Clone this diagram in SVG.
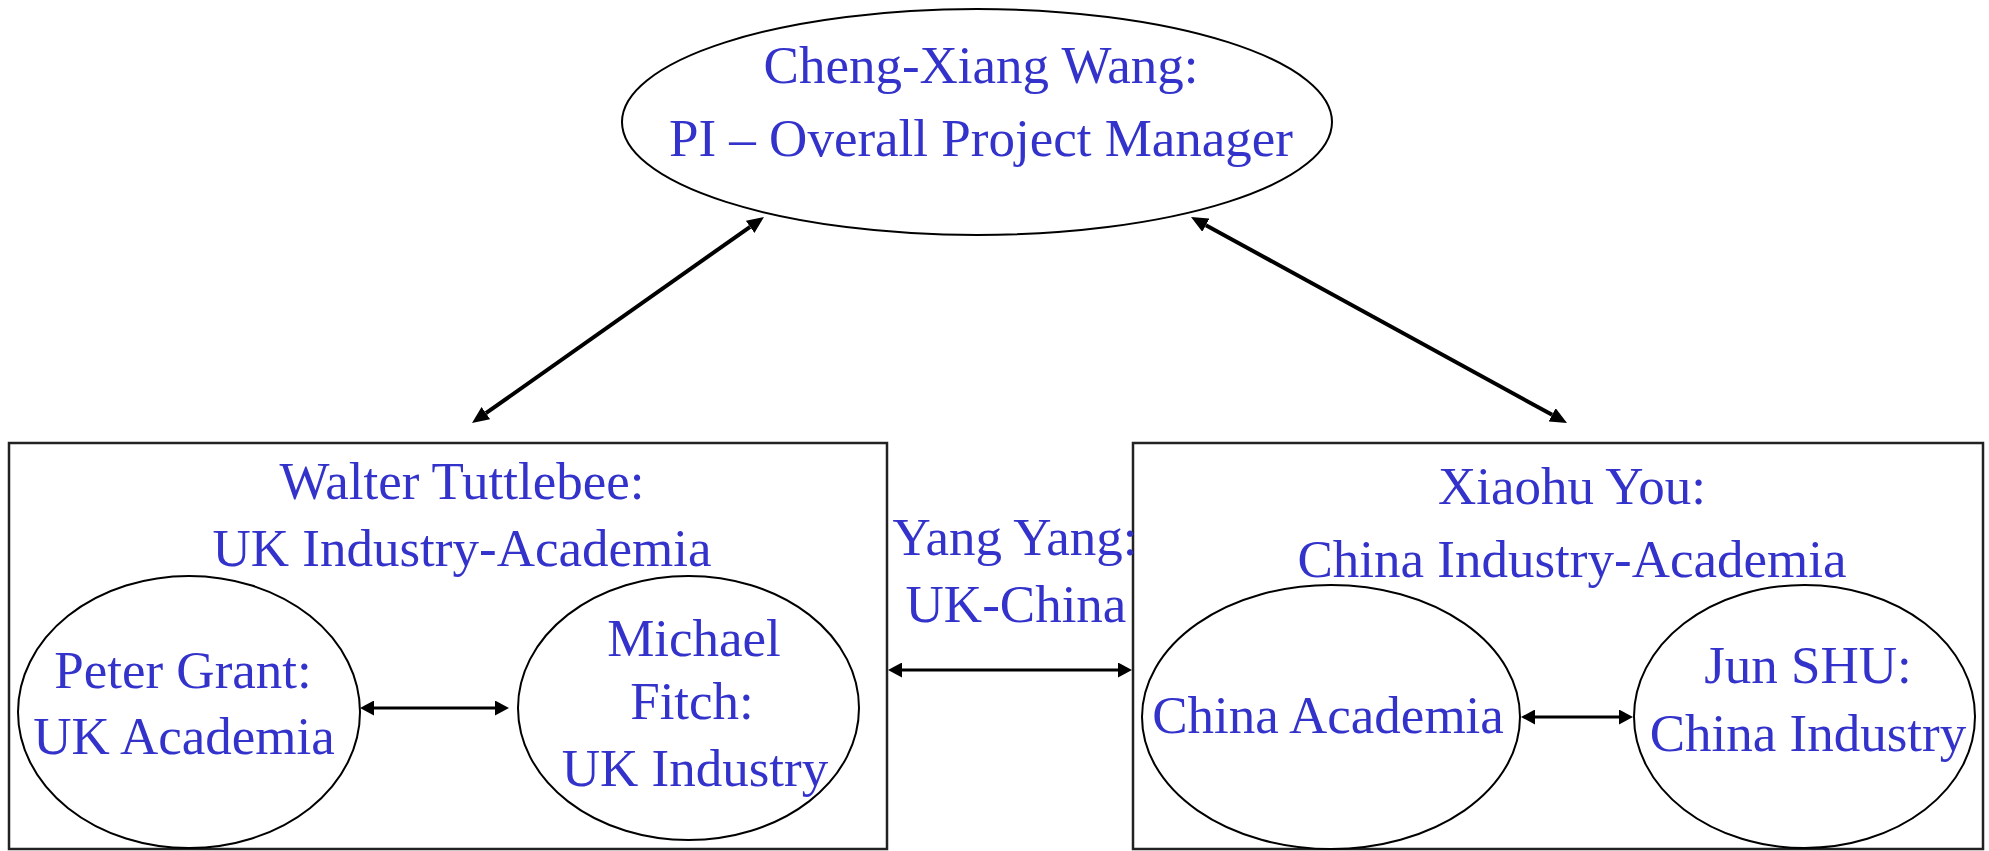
<svg xmlns="http://www.w3.org/2000/svg" width="1989" height="851" viewBox="0 0 1989 851">
<defs>
<style>
.t{font-family:"Liberation Serif","Times New Roman",serif;font-size:53px;fill:#3333cc;text-anchor:middle}
.n{fill:#fff;stroke:#000;stroke-width:2}
.box{fill:#fff;stroke:#222;stroke-width:2.5}
.big{stroke:#000;stroke-width:4;fill:none;marker-start:url(#ah1);marker-end:url(#ah1)}
.sm{stroke:#000;stroke-width:3;fill:none;marker-start:url(#ah2);marker-end:url(#ah2)}
</style>
<marker id="ah1" viewBox="0 0 17 15" refX="0" refY="7.5" markerWidth="17" markerHeight="15" markerUnits="userSpaceOnUse" orient="auto-start-reverse"><path d="M0,0 L17,7.5 L0,15 z" fill="#000"/></marker>
<marker id="ah2" viewBox="0 0 14 15" refX="0" refY="7.5" markerWidth="14" markerHeight="15" markerUnits="userSpaceOnUse" orient="auto-start-reverse"><path d="M0,0 L14,7.5 L0,15 z" fill="#000"/></marker>
</defs>
<rect width="1989" height="851" fill="#fff"/>
<g id="pi">
<ellipse class="n" cx="977" cy="122" rx="355" ry="113"/>
<text class="t" x="981" y="83">Cheng-Xiang Wang:</text>
<text class="t" x="981" y="156">PI – Overall Project Manager</text>
</g>
<g id="uk">
<rect class="box" x="9" y="443" width="878" height="406"/>
<text class="t" x="462" y="499">Walter Tuttlebee:</text>
<text class="t" x="462" y="566">UK Industry-Academia</text>
</g>
<g id="china">
<rect class="box" x="1133" y="443" width="850" height="406"/>
<text class="t" x="1572" y="504">Xiaohu You:</text>
<text class="t" x="1572" y="577">China Industry-Academia</text>
</g>
<g id="peter">
<ellipse class="n" cx="189" cy="712" rx="171" ry="136"/>
<text class="t" x="183" y="688">Peter Grant:</text>
<text class="t" x="184" y="754">UK Academia</text>
</g>
<g id="michael">
<ellipse class="n" cx="688.5" cy="708" rx="170.5" ry="132"/>
<text class="t" x="694" y="656">Michael</text>
<text class="t" x="692" y="719">Fitch:</text>
<text class="t" x="695" y="786">UK Industry</text>
</g>
<g id="chinaacademia">
<ellipse class="n" cx="1331" cy="717" rx="189" ry="132"/>
<text class="t" x="1328" y="733">China Academia</text>
</g>
<g id="junshu">
<ellipse class="n" cx="1804.5" cy="716.5" rx="170.5" ry="131.5"/>
<text class="t" x="1808" y="683">Jun SHU:</text>
<text class="t" x="1808" y="751">China Industry</text>
</g>
<g id="yangyang">
<text class="t" x="1015" y="555">Yang Yang:</text>
<text class="t" x="1016" y="622">UK-China</text>
</g>
<g id="connectors">
<line class="big" x1="485.9" y1="413.2" x2="750.1" y2="226.8"/>
<line class="big" x1="1205.9" y1="225.2" x2="1552.1" y2="414.8"/>
<line class="sm" x1="374" y1="708" x2="495" y2="708"/>
<line class="sm" x1="902" y1="670" x2="1118" y2="670"/>
<line class="sm" x1="1535" y1="717" x2="1619" y2="717"/>
</g>
</svg>
